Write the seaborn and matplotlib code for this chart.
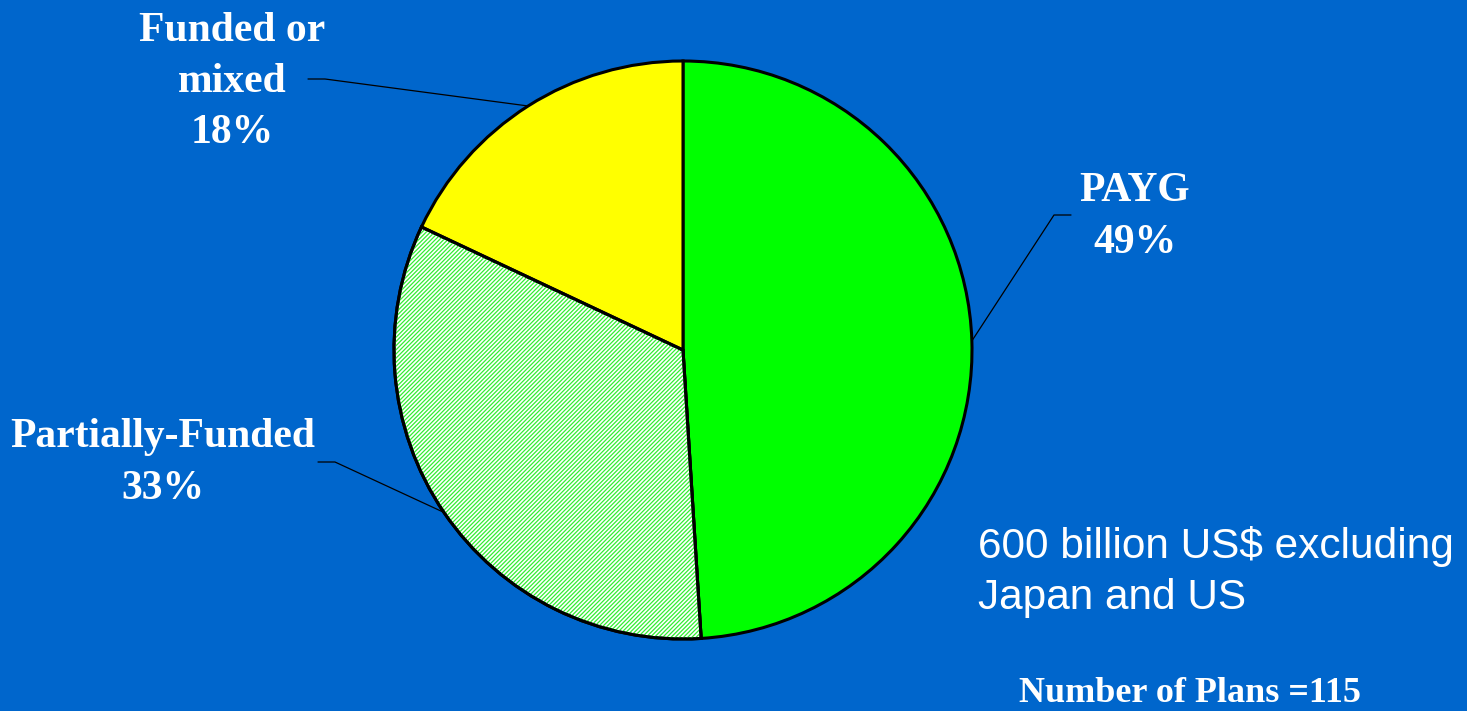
import numpy as np
import matplotlib
matplotlib.use("Agg")
import matplotlib.pyplot as plt
from matplotlib.patches import Wedge
import seaborn as sns

# ---- data ----
categories = ["PAYG", "Partially-Funded", "Funded or\nmixed"]
shares = [49, 33, 18]
slice_colors = ["#00FF00", "#FFFFFF", "#FFFF00"]
note_text = "600 billion US$ excluding\nJapan and US"
plans_text = "Number of Plans =115"

BG = "#0066CC"
W, H = 1467, 711

sns.set_theme(style="white")
plt.rcParams["hatch.linewidth"] = 0.9

fig = plt.figure(figsize=(W / 100, H / 100), dpi=100)
fig.patch.set_facecolor(BG)
ax = fig.add_axes([0, 0, 1, 1])
ax.set_facecolor(BG)

cx, cy, R = 683, H - 350, 289
wedges, _ = ax.pie(shares, colors=slice_colors, startangle=90, counterclock=False,
                   center=(cx, cy), radius=R,
                   wedgeprops=dict(edgecolor="black", linewidth=2.2))
ax.set_xlim(0, W)
ax.set_ylim(0, H)
ax.set_aspect("equal")
ax.axis("off")

# hatch for the partially-funded slice
pw = wedges[1]
hatch = Wedge((cx, cy), R, pw.theta1, pw.theta2, facecolor="none",
              edgecolor="#33EE33", hatch="////////", linewidth=0, zorder=2)
ax.add_patch(hatch)
outline = Wedge((cx, cy), R, pw.theta1, pw.theta2, facecolor="none",
                edgecolor="black", linewidth=2.2, zorder=3)
ax.add_patch(outline)

serif = dict(family="Liberation Serif", weight="bold", color="white")

# labels: (text position in px, elbow start, elbow end)
label_pos = {
    "PAYG": ((1135, 217), (1071, 215), (1054, 215)),
    "Partially-Funded": ((163, 463), (318, 462), (335, 462)),
    "Funded or\nmixed": ((232, 82), (308, 79), (325, 79)),
}
for w, cat, sh in zip(wedges, categories, shares):
    (tx, ty), e1, e2 = label_pos[cat]
    ax.text(tx, H - ty, f"{cat}\n{sh}%", ha="center", va="center",
            fontsize=30, linespacing=1.45, **serif)
    mid = np.deg2rad((w.theta1 + w.theta2) / 2)
    rx, ry = cx + R * np.cos(mid), cy + R * np.sin(mid)
    ax.plot([e1[0], e2[0], rx], [H - e1[1], H - e2[1], ry],
            color="black", linewidth=0.9, zorder=4)

ax.text(978, H - 572, note_text, ha="left", va="center", fontsize=30.5,
        family="Liberation Sans", color="white", linespacing=1.33)
ax.text(1190, H - 693, plans_text, ha="center", va="center", fontsize=26, **serif)

fig.savefig("out.png", dpi=100, facecolor=BG)
